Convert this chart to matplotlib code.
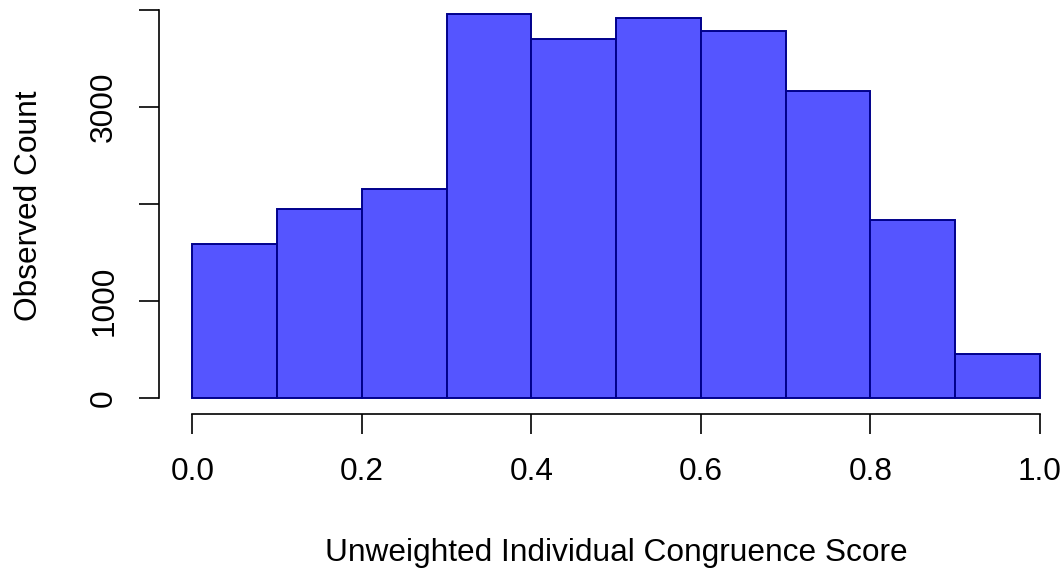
import matplotlib
matplotlib.use("Agg")
import matplotlib.pyplot as plt

bin_edges = [0.0, 0.1, 0.2, 0.3, 0.4, 0.5, 0.6, 0.7, 0.8, 0.9, 1.0]
counts = [1586, 1950, 2152, 3958, 3697, 3916, 3783, 3168, 1839, 453]
x_ticks = [0.0, 0.2, 0.4, 0.6, 0.8, 1.0]
x_tick_labels = ["0.0", "0.2", "0.4", "0.6", "0.8", "1.0"]
y_ticks = [0, 1000, 2000, 3000, 4000]
y_tick_labels = ["0", "1000", "", "3000", ""]
x_label = "Unweighted Individual Congruence Score"
y_label = "Observed Count"

plt.rcParams['font.family'] = ['Liberation Sans', 'DejaVu Sans']
W, H = 1064, 569
fig = plt.figure(figsize=(W / 100, H / 100), dpi=100)

# axes placement in pixels
left_px, right_px = 158.6, 1073.6
top_px, bottom_px = -1.4, 413.7
ax = fig.add_axes([left_px / W, 1 - bottom_px / H, (right_px - left_px) / W, (bottom_px - top_px) / H])

ymax = max(counts)
ax.set_xlim(-0.04, 1.04)
ax.set_ylim(-0.04 * ymax, ymax * 1.04)

lefts = bin_edges[:-1]
widths = [b - a for a, b in zip(bin_edges[:-1], bin_edges[1:])]
ax.bar(lefts, counts, width=widths, align='edge', color='#5555ff',
       edgecolor='#00008b', linewidth=1.4)

for s in ['top', 'right']:
    ax.spines[s].set_visible(False)
ax.spines['left'].set_bounds(0, 4000)
ax.spines['bottom'].set_bounds(0, 1)
for s in ['left', 'bottom']:
    ax.spines[s].set_linewidth(1.2)

ax.set_xticks(x_ticks)
ax.set_xticklabels(x_tick_labels)
ax.set_yticks(y_ticks)
ax.set_yticklabels(y_tick_labels, rotation=90, va='center')

fs = 22.8
ax.tick_params(axis='both', direction='out', length=14.4, width=1.2, labelsize=fs)
ax.tick_params(axis='x', pad=16.5)
ax.tick_params(axis='y', pad=14)

fig.text(37 / W, 1 - 206 / H, y_label, rotation=90, rotation_mode='anchor',
         ha='center', va='baseline', fontsize=fs)
fig.text(616 / W, 1 - 560.5 / H, x_label, ha='center', va='baseline', fontsize=fs)

fig.savefig("out.png", dpi=100)
